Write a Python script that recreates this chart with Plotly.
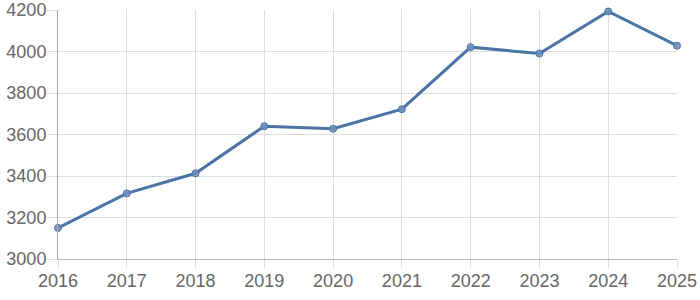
import plotly.graph_objects as go

years = [2016, 2017, 2018, 2019, 2020, 2021, 2022, 2023, 2024, 2025]
values = [3150, 3316, 3413, 3640, 3628, 3722, 4021, 3990, 4193, 4028]
y_ticks = [3000, 3200, 3400, 3600, 3800, 4000, 4200]

fig = go.Figure()
fig.add_trace(go.Scatter(
    x=years, y=values, mode="lines+markers",
    line=dict(color="#4a74a4", width=3),
    marker=dict(size=7, color="rgba(110,145,190,0.9)", line=dict(color="#4a74a4", width=1)),
    cliponaxis=False,
))
fig.update_layout(
    width=700, height=300,
    margin=dict(l=58, r=23, t=10, b=41, autoexpand=False),
    paper_bgcolor="white", plot_bgcolor="white",
    showlegend=False,
    font=dict(family="Liberation Sans, Arial, sans-serif", size=18, color="#666666"),
)
fig.update_xaxes(
    range=[2016, 2025], tickvals=years, ticktext=[str(y) for y in years],
    showgrid=True, gridcolor="#dddddd", gridwidth=1,
    showline=True, linecolor="#bbbbbb", linewidth=1,
    ticks="outside", ticklen=8, tickcolor="#dddddd", zeroline=False,
    ticklabelstandoff=-3,
    automargin=False,
)
fig.update_yaxes(
    range=[3000, 4200], tickvals=y_ticks,
    showgrid=True, gridcolor="#dddddd", gridwidth=1,
    showline=True, linecolor="#aaaaaa", linewidth=1,
    ticks="outside", ticklen=10, tickcolor="#dddddd", zeroline=False,
    ticklabelstandoff=-3,
    automargin=False,
)
fig.write_html("out.html")
